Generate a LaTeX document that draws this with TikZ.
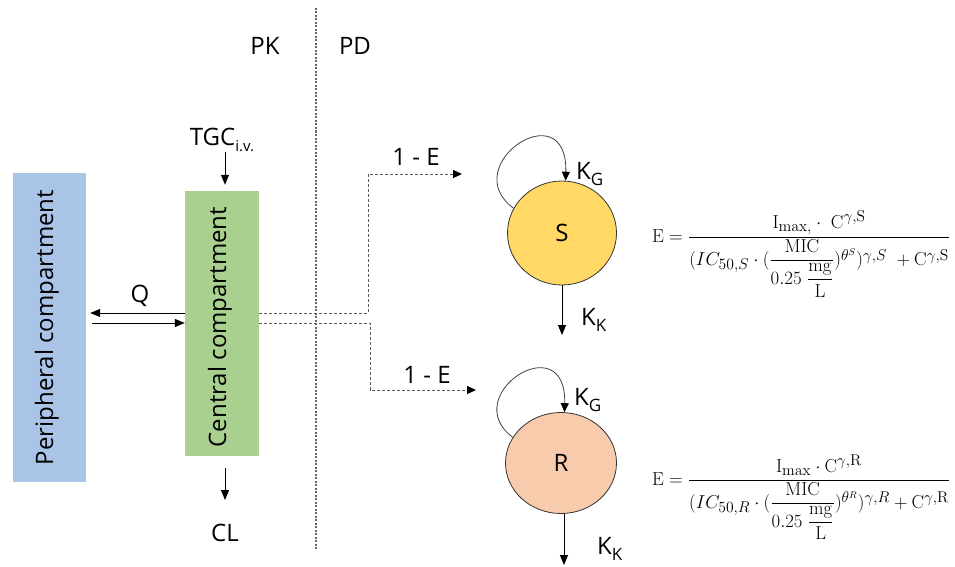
\documentclass[tikz,border=0pt]{standalone}
\usepackage[no-math]{fontspec}
\setmainfont{Open Sans}
\usepackage{amsmath}
\usetikzlibrary{arrows.meta,shapes.geometric}

\definecolor{perblue}{RGB}{169,196,230}
\definecolor{cengreen}{RGB}{169,208,142}
\definecolor{syellow}{RGB}{255,216,102}
\definecolor{rsalmon}{RGB}{248,203,173}

% lowered subscript sized relative to the label font
\newcommand\lowtxt[2]{\raisebox{-0.28em}{\fontsize{#1}{#1}\selectfont #2}}

\begin{document}
\begin{tikzpicture}[x=1pt,y=-1pt,
  lbl/.style={font=\fontsize{24}{28}\selectfont, inner sep=0pt},
  compbox/.style={inner sep=0pt, draw=none},
  arr/.style={-{Triangle[length=10pt,width=8pt]}, line width=1pt, draw=black},
  flow/.style={densely dashed, line width=1pt, draw=black!65,
    -{Triangle[length=9pt,width=8pt,fill=black,color=black]}},
  loopline/.style={line width=0.8pt, draw=black!75,
    -{Triangle[length=9pt,width=8pt,fill=black,color=black]}},
  cell/.style={ellipse, draw=black!80, line width=0.8pt, inner sep=0pt,
    font=\fontsize{24}{28}\selectfont},
  divider/.style={line width=1.1pt, draw=black!60, dash pattern=on 2pt off 1.5pt},
  eqn/.style={inner sep=0pt, font=\fontsize{19}{23}\selectfont}
]
\useasboundingbox (0,0) rectangle (955,567);

% PK / PD separation
\coordinate (divtop) at (316,8);
\coordinate (divbot) at (316,550);
\draw[divider] (divtop) -- (divbot);
\node[lbl] (pk) at (265,46) {PK};
\node[lbl] (pd) at (355,46) {PD};

% compartments
\node[compbox, fill=perblue, minimum width=73pt, minimum height=309pt] (per) at (49.5,327.5) {};
\node[lbl, rotate=90] (pertxt) at (47,327.5) {Peripheral compartment};
\node[compbox, fill=cengreen, minimum width=74pt, minimum height=265pt] (cen) at (222,323.5) {};
\node[lbl, rotate=90] (centxt) at (220,327) {Central compartment};

% dosing and clearance
\node[lbl] (tgc) at (222,140) {TGC\lowtxt{15}{i.v.}};
\coordinate (tgcfrom) at (225,152);
\draw[arr, shorten >=6pt] (tgcfrom) -- (tgcfrom |- cen.north);
\coordinate (clfrom) at (225,468);
\coordinate (clto) at (225,500);
\draw[arr] (clfrom) -- (clto);
\node[lbl] (cl) at (225,533) {CL};

% intercompartmental exchange
\coordinate (q1) at (0,313);
\coordinate (q2) at (0,323);
\draw[arr, line width=0.8pt] (cen.west |- q1) -- ([xshift=4pt]per.east |- q1);
\draw[arr, line width=0.8pt] ([xshift=6pt]per.east |- q2) -- (cen.west |- q2);
\node[lbl] (q) at (140,296) {Q};

% bacterial subpopulations
\node[cell, fill=syellow, minimum width=109pt, minimum height=104pt] (S) at (562,233) {S};
\node[cell, fill=rsalmon, minimum width=111pt, minimum height=101pt] (R) at (561,463) {R};

% drug effect on growth
\coordinate (sIn) at (462,174);
\coordinate (rIn) at (476,390);
\coordinate (j1) at (368,0);
\coordinate (j2) at (370,0);
\draw[flow] (cen.east |- q1) -| (j1 |- sIn) -- (sIn);
\draw[flow] (cen.east |- q2) -| (j2 |- rIn) -- (rIn);
\node[lbl] (e1) at (416,157) {1 - E};
\node[lbl] (e2) at (427,375) {1 - E};

% growth loops
\draw[loopline] (S.153) .. controls +(-58,-43) and +(2,-90) .. (S.86);
\draw[loopline] (R.152) .. controls +(-56,-42) and +(2,-88) .. (R.86);
\node[lbl, anchor=west] (kgs) at (576,174) {K\lowtxt{17}{G}};
\node[lbl, anchor=west] (kgr) at (574,400) {K\lowtxt{17}{G}};

% killing
\coordinate (sOut) at (562,335);
\coordinate (rOut) at (564,565);
\draw[arr, line width=0.9pt] (S.south) -- (sOut);
\draw[arr, line width=0.9pt] (R.south -| rOut) -- (rOut);
\node[lbl, anchor=west] (kks) at (581,320) {K\lowtxt{17}{K}};
\node[lbl, anchor=west] (kkr) at (597,549) {K\lowtxt{17}{K}};

% effect models
\node[eqn, anchor=base west] (eqs) at (652,242)
  {\resizebox{298pt}{!}{$\mathrm{E} = \dfrac{\mathrm{I}_{\mathrm{max,}}\cdot\ \mathrm{C}^{\gamma,\mathrm{S}}}
  {(IC_{50,S}\cdot(\dfrac{\mathrm{MIC}}{0.25\ \dfrac{\mathrm{mg}}{\mathrm{L}}})^{\theta^S})^{\gamma,S}\ +\mathrm{C}^{\gamma,\mathrm{S}}}$}};
\node[eqn, anchor=base west] (eqr) at (652,485)
  {\resizebox{298pt}{!}{$\mathrm{E} = \dfrac{\mathrm{I}_{\mathrm{max}}\cdot \mathrm{C}^{\gamma,\mathrm{R}}}
  {(IC_{50,R}\cdot(\dfrac{\mathrm{MIC}}{0.25\ \dfrac{\mathrm{mg}}{\mathrm{L}}})^{\theta^R})^{\gamma,R}+\mathrm{C}^{\gamma,\mathrm{R}}}$}};
\end{tikzpicture}
\end{document}
